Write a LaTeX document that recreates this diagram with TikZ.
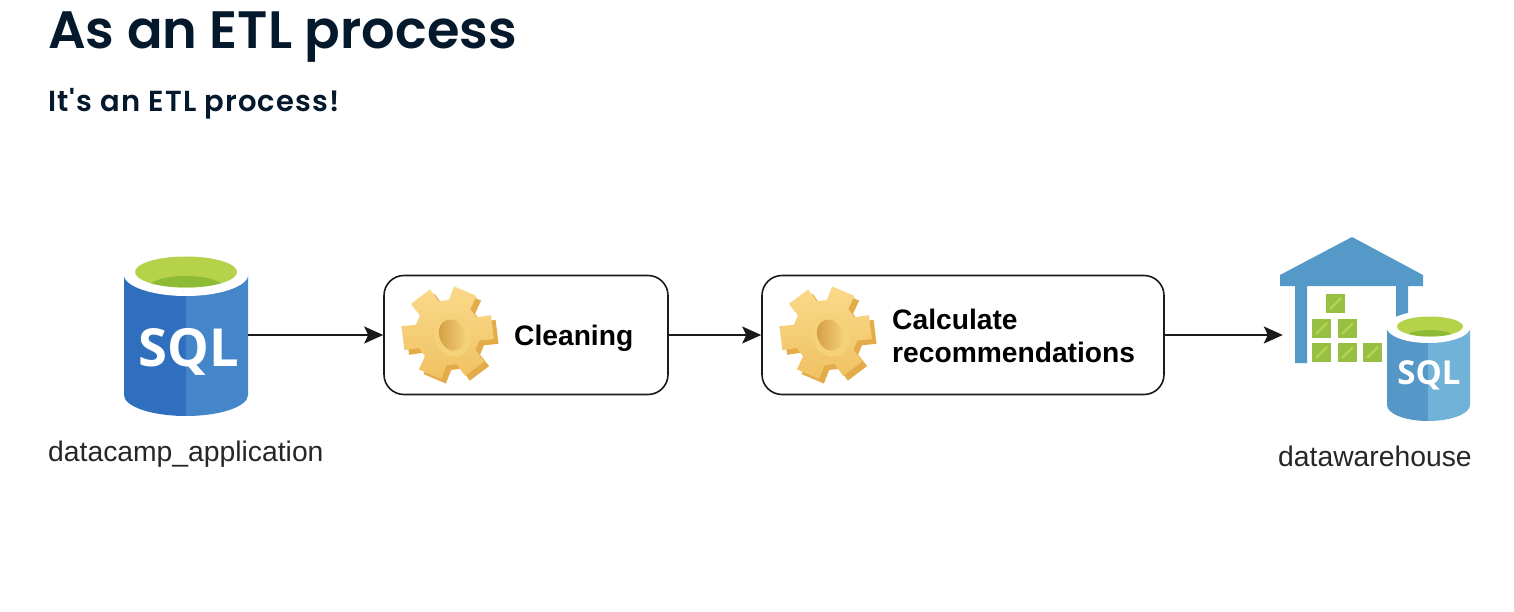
\documentclass[tikz,border=0pt]{standalone}
\usepackage{fontspec}
\setmainfont{Liberation Sans}
\newfontfamily\headfont{Poppins SemiBold}
\newfontfamily\subfont[LetterSpace=4]{Poppins SemiBold}
\newfontfamily\sqlfont{Open Sans}
\usetikzlibrary{arrows.meta}
\definecolor{navy}{HTML}{05192D}
\definecolor{lineblack}{HTML}{1A1A1A}
\definecolor{greenA}{HTML}{B6D24A}
\definecolor{greenB}{HTML}{8DBB36}
\definecolor{crateC}{HTML}{96C043}
\definecolor{blueL}{HTML}{2F6FBE}
\definecolor{blueR}{HTML}{4585C9}
\definecolor{tealL}{HTML}{5597C6}
\definecolor{tealR}{HTML}{70B2D8}
\definecolor{roof}{HTML}{5499C7}
\definecolor{goldD}{HTML}{E3AC48}
\definecolor{goldH}{HTML}{FAD98A}
\definecolor{goldL}{HTML}{F9DC88}
\definecolor{goldM}{HTML}{F0C262}
\definecolor{goldR}{HTML}{F6D27A}
\definecolor{goldC}{HTML}{D39C42}
\newcommand{\gearpath}[1]{%
  \foreach \ga [count=\gi] in {53,113,173,233,293,353}{
    \ifnum\gi=1 (\ga-21:#1*0.70) \else -- (\ga-21:#1*0.70) \fi
    -- (\ga-15:#1) -- (\ga+15:#1) -- (\ga+21:#1*0.70)
  } -- cycle}
\tikzset{
  x=1pt,y=-1pt,
  headtext/.style={anchor=base west,inner sep=0pt,text=navy},
  procbox/.style={draw=lineblack,line width=1.6pt,rounded corners=20pt,inner sep=0pt},
  boxtext/.style={anchor=west,inner sep=0pt,align=left,text=black,font=\fontsize{28.2}{33}\selectfont\bfseries},
  captext/.style={inner sep=0pt,text=black!85,font=\fontsize{28.3}{33}\selectfont},
  flow/.style={draw=lineblack,line width=1.6pt,-{Stealth[length=19pt,width=17pt,inset=4pt]}},
  anchorbox/.style={inner sep=0pt,minimum width=#1},
  pics/gear/.style={code={
    \begin{scope}[x=0.3333pt,y=-0.3333pt]
      \begin{scope}[shift={(7,7)}]
        \fill[goldD] \gearpath{140};
      \end{scope}
      \begin{scope}[shift={(-7,-7)}]
        \shade[top color=goldH,bottom color=goldM] \gearpath{140};
      \end{scope}
      \fill[goldL!60!goldM,rotate around={20:(8,0)}] (8,0) ellipse [x radius=56,y radius=66];
      \shade[left color=goldC,right color=goldR,rotate around={20:(6,0)}] (6,0) ellipse [x radius=38,y radius=48];
    \end{scope}
  }},
}
\begin{document}
\begin{tikzpicture}
\useasboundingbox (0,0) rectangle (1514,612);
\fill[white] (0,0) rectangle (1514,612);
% headings
\node[headtext,font=\headfont\fontsize{52.6}{60}\selectfont] (title) at (48,49) {As an ETL process};
\node[headtext,font=\subfont\fontsize{29}{32}\selectfont] (subtitle) at (48,112) {It's an ETL process!};
% source database
\fill[blueL] (124,274) -- (186,274) -- (186,416) arc [start angle=90,end angle=180,x radius=62,y radius=21] -- cycle;
\fill[blueR] (248,274) -- (186,274) -- (186,416) arc [start angle=90,end angle=0,x radius=62,y radius=21] -- cycle;
\fill[white] (186,274) ellipse [x radius=62.5,y radius=22];
\fill[greenA] (186,272) ellipse [x radius=51,y radius=15.5];
\begin{scope}
  \clip (186,272) ellipse [x radius=51,y radius=15.5];
  \fill[greenB] (186,288) ellipse [x radius=38,y radius=12];
\end{scope}
\node[inner sep=0pt,text=white,font=\sqlfont\bfseries\fontsize{52.5}{54}\selectfont] (sqlA) at (189,352) {SQL};
\node[anchorbox=124,minimum height=160] (src) at (186,335) {};
\node[captext,anchor=base west] (srccap) at (48,461) {datacamp\_application};
% process boxes
\node[procbox,minimum width=284,minimum height=119] (clean) at (526,335) {};
\node[procbox,minimum width=402,minimum height=119] (calc) at (963,335) {};
\pic at (450,335) {gear};
\pic at (828,335) {gear};
\node[boxtext] (cleantext) at (514,338) {Cleaning};
\node[boxtext] (calctext) at (892,336) {Calculate\\recommendations};
% warehouse
\fill[roof] (1352,237) -- (1423,275) -- (1423,286) -- (1408,286) -- (1408,320) -- (1396,320) -- (1396,286) -- (1307,286) -- (1307,363) -- (1295,363) -- (1295,286) -- (1280,286) -- (1280,275) -- cycle;
\foreach \cx/\cy in {1326/294,1312/319,1338/319,1312/343,1338/343,1363/343}{
  \fill[crateC] (\cx,\cy) rectangle ++(19,19);
  \draw[greenA,line width=2.5pt] (\cx+4,\cy+15) -- (\cx+15,\cy+4);
}
\fill[tealL] (1387,327) -- (1428,327) -- (1428,421) arc [start angle=90,end angle=180,x radius=41,y radius=16] -- cycle;
\fill[tealR] (1470,327) -- (1428,327) -- (1428,421) arc [start angle=90,end angle=0,x radius=42,y radius=16] -- cycle;
\fill[white] (1428.5,327) ellipse [x radius=42,y radius=16];
\fill[greenA] (1430,326.5) ellipse [x radius=33,y radius=10];
\begin{scope}
  \clip (1430,326.5) ellipse [x radius=33,y radius=10];
  \fill[greenB] (1430,337) ellipse [x radius=24,y radius=7];
\end{scope}
\node[inner sep=0pt,text=white,font=\sqlfont\bfseries\fontsize{33}{33}\selectfont] (sqlB) at (1429,375) {SQL};
\node[anchorbox=190,minimum height=190] (wh) at (1378,330) {};
\node[captext,anchor=base west] (whcap) at (1278,466) {datawarehouse};
% connectors
\draw[flow] (src.east |- clean.west) -- (clean.west);
\draw[flow] (clean.east) -- (calc.west);
\draw[flow] (calc.east) -- (wh.west |- calc.east);
\end{tikzpicture}
\end{document}
